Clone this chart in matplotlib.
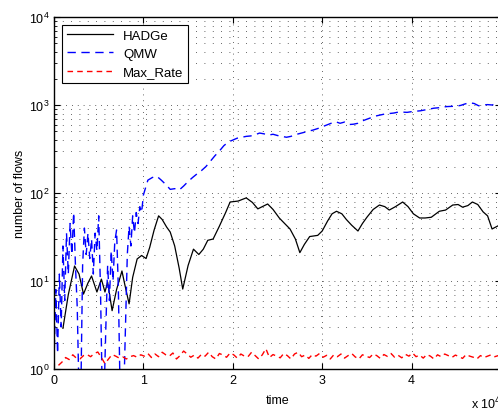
import matplotlib.pyplot as plt
import numpy as np

plt.rcParams['font.family'] = ['Liberation Sans', 'DejaVu Sans']

# HADGe (smooth black curve)
hadge_t = [0.10, 0.16, 0.23, 0.28, 0.33, 0.38, 0.42, 0.48, 0.53, 0.57, 0.60, 0.65,
           0.70, 0.76, 0.79, 0.84, 0.88, 0.93, 0.98, 1.03, 1.07, 1.12, 1.17, 1.21,
           1.26, 1.30, 1.35, 1.40, 1.44, 1.50, 1.56, 1.62, 1.67, 1.72, 1.78, 1.85,
           1.92, 1.97, 2.06, 2.15, 2.22, 2.28, 2.33, 2.39, 2.45, 2.52, 2.58, 2.64,
           2.70, 2.75, 2.80, 2.86, 2.95, 3.00, 3.06, 3.11, 3.16, 3.22, 3.27, 3.33,
           3.40, 3.45, 3.50, 3.57, 3.64, 3.70, 3.75, 3.82, 3.90, 3.96, 4.02, 4.09,
           4.15, 4.22, 4.31, 4.38, 4.46, 4.52, 4.57, 4.63, 4.68, 4.74, 4.80, 4.85,
           4.90, 4.96, 5.00]
hadge_v = [2.9, 7.0, 14.8, 12.0, 7.1, 9.5, 11.4, 7.5, 10.5, 7.5, 9.7, 4.6,
           8.0, 13.0, 9.3, 5.5, 11.0, 17.8, 19.5, 18.0, 24.0, 38.0, 55.0, 50.0,
           41.0, 36.0, 25.0, 14.0, 8.1, 15.0, 23.0, 20.0, 23.0, 29.0, 30.0, 42.0,
           60.0, 79.0, 81.0, 88.0, 78.0, 66.0, 70.0, 75.0, 65.0, 52.0, 45.0, 39.0,
           30.0, 21.0, 26.0, 32.0, 33.0, 37.0, 48.0, 58.0, 62.0, 58.0, 50.0, 43.0,
           37.0, 45.0, 53.0, 65.0, 73.0, 70.0, 64.0, 70.0, 79.0, 70.0, 58.0, 52.0,
           52.0, 53.0, 62.0, 64.0, 73.0, 74.0, 69.0, 72.0, 79.0, 74.0, 61.0, 55.0,
           39.0, 42.0, 44.0]

# QMW (blue dashed), dense samples over the first unit
qmw_t = [0.00, 0.02, 0.04, 0.06, 0.08, 0.10, 0.12, 0.14, 0.16, 0.18, 0.20, 0.22,
         0.24, 0.26, 0.28, 0.30, 0.32, 0.34, 0.36, 0.38, 0.40, 0.42, 0.44, 0.46,
         0.48, 0.50, 0.52, 0.54, 0.56, 0.58, 0.60, 0.62, 0.64, 0.66, 0.68, 0.70,
         0.72, 0.74, 0.76, 0.78, 0.80, 0.82, 0.84, 0.86, 0.88, 0.90, 0.92, 0.94,
         0.96, 0.98, 1.00, 1.05, 1.10, 1.15, 1.20, 1.25, 1.30, 1.35, 1.40, 1.45,
         1.50, 1.55, 1.60, 1.65, 1.70, 1.75, 1.80, 1.85, 1.90, 1.95, 2.00, 2.05,
         2.10, 2.15, 2.20, 2.25, 2.30, 2.35, 2.40, 2.45, 2.50, 2.55, 2.60, 2.65,
         2.70, 2.75, 2.80, 2.85, 2.90, 2.95, 3.00, 3.05, 3.10, 3.15, 3.20, 3.25,
         3.30, 3.35, 3.40, 3.45, 3.50, 3.55, 3.60, 3.65, 3.70, 3.75, 3.80, 3.85,
         3.90, 3.95, 4.00, 4.05, 4.10, 4.15, 4.20, 4.25, 4.30, 4.35, 4.40, 4.45,
         4.50, 4.55, 4.60, 4.65, 4.70, 4.75, 4.80, 4.85, 4.90, 4.95, 5.00]
qmw_v = [1.2, 8.0, 1.5, 12.0, 3.0, 25.0, 6.0, 35.0, 12.0, 45.0, 20.0, 60.0,
         15.0, 5.0, 0.5, 0.5, 15.0, 40.0, 20.0, 35.0, 18.0, 30.0, 12.0, 35.0,
         22.0, 55.0, 8.0, 0.5, 0.5, 3.0, 15.0, 6.0, 22.0, 10.0, 28.0, 38.0,
         8.0, 0.5, 0.5, 0.5, 3.0, 20.0, 42.0, 25.0, 55.0, 35.0, 60.0, 45.0,
         70.0, 60.0, 95.0, 140.0, 150.0, 155.0, 140.0, 125.0, 110.0, 112.0, 108.0, 120.0,
         135.0, 150.0, 165.0, 180.0, 200.0, 230.0, 265.0, 300.0, 345.0, 380.0, 400.0, 420.0,
         430.0, 440.0, 445.0, 460.0, 480.0, 470.0, 455.0, 465.0, 450.0, 440.0, 430.0, 440.0,
         460.0, 475.0, 490.0, 505.0, 520.0, 540.0, 565.0, 590.0, 620.0, 645.0, 620.0, 640.0,
         600.0, 605.0, 620.0, 660.0, 690.0, 720.0, 750.0, 770.0, 790.0, 800.0, 810.0, 830.0,
         830.0, 825.0, 840.0, 850.0, 860.0, 880.0, 900.0, 920.0, 930.0, 950.0, 960.0, 965.0,
         970.0, 990.0, 1030.0, 1060.0, 1040.0, 980.0, 1000.0, 1010.0, 1000.0, 1040.0, 1050.0]

# Max_Rate (red dashed), noisy around 1.4
rate_t = np.arange(0.05, 5.0, 0.04)
rate_v = [1.10, 1.20, 1.35, 1.28, 1.45, 1.33, 1.30, 1.42, 1.46, 1.38, 1.50, 1.56,
          1.35, 1.15, 1.30, 1.46, 1.40, 1.33, 1.37, 1.30, 1.38, 1.42, 1.36, 1.45,
          1.40, 1.50, 1.35, 1.48, 1.38, 1.55, 1.45, 1.40, 1.52, 1.30, 1.42, 1.60,
          1.48, 1.36, 1.44, 1.33, 1.47, 1.40, 1.55, 1.38, 1.30, 1.50, 1.44, 1.36,
          1.52, 1.45, 1.33, 1.48, 1.40, 1.38, 1.55, 1.42, 1.30, 1.45, 1.70, 1.35,
          1.46, 1.40, 1.34, 1.50, 1.42, 1.30, 1.48, 1.55, 1.38, 1.44, 1.32, 1.46,
          1.40, 1.50, 1.36, 1.43, 1.30, 1.45, 1.38, 1.48, 1.33, 1.42, 1.50, 1.37,
          1.30, 1.45, 1.40, 1.35, 1.48, 1.42, 1.32, 1.46, 1.39, 1.50, 1.36, 1.43,
          1.34, 1.47, 1.40, 1.52, 1.38, 1.44, 1.33, 1.46, 1.40, 1.30, 1.45, 1.38,
          1.48, 1.42, 1.35, 1.44, 1.38, 1.32, 1.46, 1.40, 1.36, 1.30, 1.42, 1.35,
          1.40, 1.45, 1.38, 1.42]

fig = plt.figure(figsize=(4.98, 4.14), dpi=100)
ax = fig.add_axes([54 / 498, 44 / 414, 447 / 498, 352 / 414])

ax.plot(hadge_t, hadge_v, color='k', lw=0.9, label='HADGe')
ax.plot(qmw_t, qmw_v, color='#0000ff', lw=1.0, dashes=(6, 4), label='QMW')
ax.plot(rate_t, rate_v[:len(rate_t)], color='#ff0000', lw=1.0, dashes=(4, 3), label='Max_Rate')

ax.set_yscale('log')
ax.set_ylim(1, 1e4)
ax.set_xlim(0, 5)
ax.set_xticks([0, 1, 2, 3, 4, 5])

ax.grid(True, which='major', color='#333333', lw=0.6, linestyle=(0, (1, 6)))
ax.grid(True, which='minor', axis='y', color='#333333', lw=0.6, linestyle=(0, (1, 9)))
ax.tick_params(which='both', direction='in', top=True, right=True, labelsize=9)
ax.tick_params(which='major', length=4)
ax.tick_params(which='minor', length=2)
for s in ax.spines.values():
    s.set_linewidth(1.0)

ax.set_xlabel('time', fontsize=9, labelpad=6)
ax.set_ylabel('number of flows', fontsize=9, labelpad=2)
fig.text(0.945, 0.012, r'x 10$^4$', fontsize=9)

leg = ax.legend(loc='upper left', fontsize=9.5, fancybox=False, framealpha=1,
                edgecolor='k', handlelength=3.5, borderaxespad=0.6,
                borderpad=0.35, labelspacing=0.45)
leg.get_frame().set_linewidth(0.8)

fig.savefig('out.png', dpi=100)
